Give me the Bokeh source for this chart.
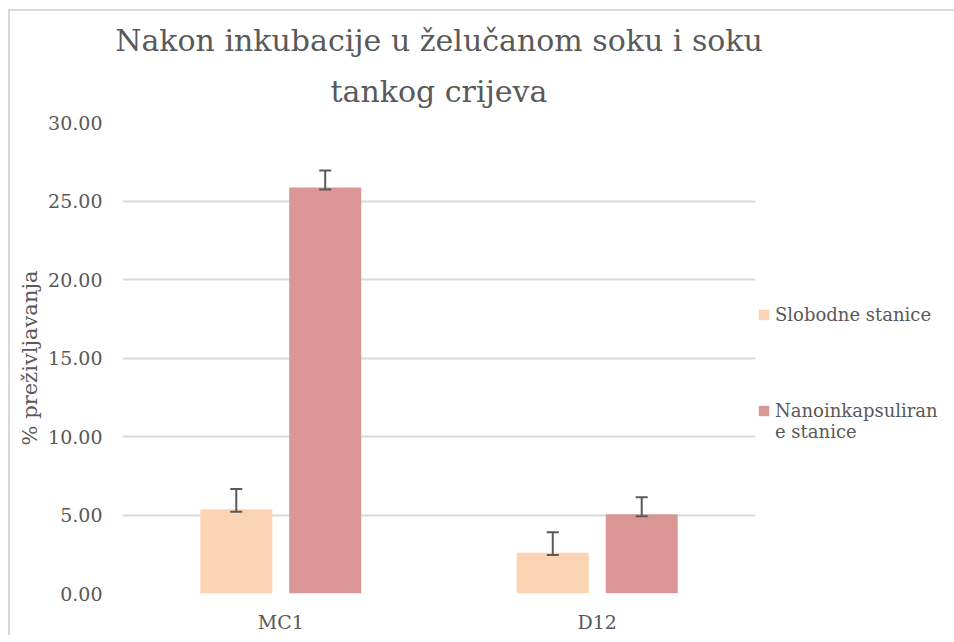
from bokeh.plotting import figure
from bokeh.layouts import column
from bokeh.models import (ColumnDataSource, Range1d, FactorRange, Whisker, TeeHead,
                          Legend, LegendItem, FixedTicker, NumeralTickFormatter, Title)
from bokeh.transform import dodge
from bokeh.embed import file_html
from bokeh.resources import INLINE

categories = ["MC1", "D12"]
title_lines = ["Nakon inkubacije u želučanom soku i soku", "tankog crijeva"]
series_names = ["Slobodne stanice", "\u00a0\nNanoinkapsuliran\ne stanice"]
slobodne = [5.37, 2.60]
slobodne_plus = [1.29, 1.30]
slobodne_minus = [0.16, 0.15]
nano = [25.86, 5.05]
nano_plus = [1.09, 1.08]
nano_minus = [0.12, 0.13]
y_ticks = [0, 5, 10, 15, 20, 25, 30]

FONT = "DejaVu Serif"
TXT = "#595959"
C_SLOB = "#FBD4B4"
C_NANO = "#D99694"
OFF = 0.1405
BW = 0.2275

src = ColumnDataSource(dict(
    cat=categories,
    slob=slobodne,
    slob_up=[v + e for v, e in zip(slobodne, slobodne_plus)],
    slob_lo=[v - e for v, e in zip(slobodne, slobodne_minus)],
    nano=nano,
    nano_up=[v + e for v, e in zip(nano, nano_plus)],
    nano_lo=[v - e for v, e in zip(nano, nano_minus)],
))

p = figure(x_range=FactorRange(*categories), y_range=Range1d(0, 30),
           frame_width=633, frame_height=471, output_backend="svg", toolbar_location=None,
           min_border_left=112, min_border_right=189, min_border_top=111, min_border_bottom=41)
p.outline_line_color = None


def style_title(t, standoff):
    t.align = "center"
    t.text_font = FONT
    t.text_font_size = "30px"
    t.text_font_style = "normal"
    t.text_color = TXT
    t.standoff = standoff


p.title.text = title_lines[0]
style_title(p.title, 0)
t2 = Title(text=title_lines[1])
style_title(t2, 28)
p.add_layout(t2, "above")

r1 = p.vbar(x=dodge("cat", -OFF, range=p.x_range), top="slob", width=BW, source=src,
            fill_color=C_SLOB, line_color=None)
r2 = p.vbar(x=dodge("cat", OFF, range=p.x_range), top="nano", width=BW, source=src,
            fill_color=C_NANO, line_color=None)

for base_off, up, lo in [(-OFF, "slob_up", "slob_lo"), (OFF, "nano_up", "nano_lo")]:
    w = Whisker(base=dodge("cat", base_off, range=p.x_range), upper=up, lower=lo, source=src,
                line_color="#595959", line_width=2, level="overlay",
                upper_head=TeeHead(size=12, line_color="#595959", line_width=2),
                lower_head=TeeHead(size=12, line_color="#595959", line_width=2))
    p.add_layout(w)

p.xgrid.grid_line_color = None
p.ygrid.grid_line_color = "#d9d9d9"
p.ygrid.grid_line_width = 2
p.ygrid.ticker = FixedTicker(ticks=y_ticks)

p.yaxis.ticker = FixedTicker(ticks=y_ticks)
p.yaxis.formatter = NumeralTickFormatter(format="0.00")
p.yaxis.axis_label = "% preživljavanja"
for ax in [p.xaxis[0], p.yaxis[0]]:
    ax.axis_line_color = None
    ax.major_tick_line_color = None
    ax.minor_tick_line_color = None
    ax.major_tick_out = 0
    ax.major_tick_in = 0
    ax.minor_tick_out = 0
    ax.major_label_text_font = FONT
    ax.major_label_text_font_size = "19px"
    ax.major_label_text_color = TXT
    ax.axis_label_text_font = FONT
    ax.axis_label_text_font_size = "21px"
    ax.axis_label_text_font_style = "normal"
    ax.axis_label_text_color = TXT
p.yaxis.major_label_standoff = 20
p.yaxis.axis_label_standoff = 3
p.xaxis.major_label_standoff = 17

legend = Legend(items=[LegendItem(label=series_names[0], renderers=[r1]),
                       LegendItem(label=series_names[1], renderers=[r2])],
                location=(2, 151), orientation="vertical",
                glyph_width=13, glyph_height=13, label_standoff=5,
                padding=0, margin=0, spacing=54,
                border_line_color=None, background_fill_color=None,
                label_text_font=FONT, label_text_font_size="18px", label_text_color=TXT,
                label_text_line_height=1.5)
p.add_layout(legend, "right")

lay = column(p, margin=(9, 0, 0, 8),
             styles={"border-left": "2px solid #d9d9d9", "border-top": "2px solid #d9d9d9"})

open("out.html", "w").write(file_html(lay, INLINE))
